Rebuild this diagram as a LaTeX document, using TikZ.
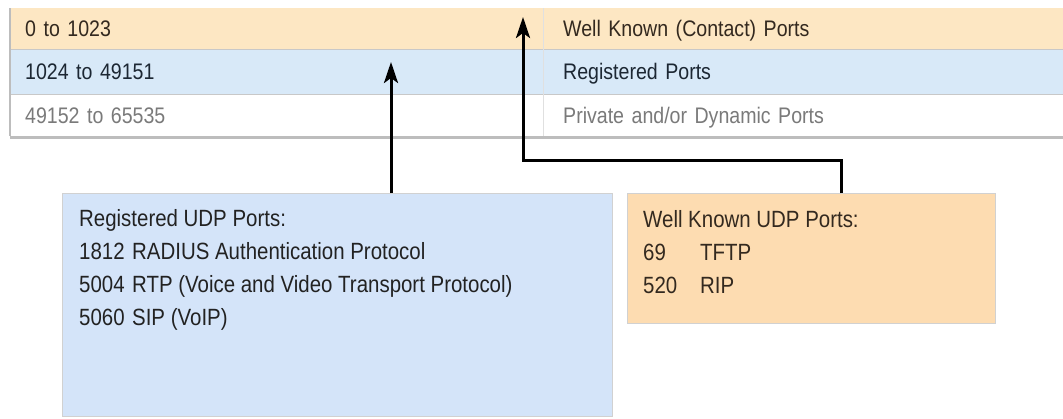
\documentclass[tikz,border=0pt]{standalone}
\usepackage{fontspec}
\setmainfont{Liberation Sans}[FakeStretch=0.87]
\usetikzlibrary{arrows.meta}
\definecolor{rowor}{HTML}{FDE7C3}
\definecolor{rowbl}{HTML}{D8E9F8}
\definecolor{boxbl}{HTML}{D4E4F9}
\definecolor{boxor}{HTML}{FDDCB1}
\definecolor{linegray}{HTML}{C8C8C8}
\definecolor{shadowgray}{HTML}{BDBDBD}
\definecolor{txtor}{HTML}{33291F}
\definecolor{txtbl}{HTML}{1C2733}
\definecolor{txtgray}{HTML}{7A7A7A}
\definecolor{txtbox}{HTML}{222222}
\begin{document}
\begin{tikzpicture}[x=1pt,y=-1pt,
  cell/.style={anchor=north west, inner xsep=15pt, inner ysep=0pt, align=left,
    font=\fontsize{22.5}{27}\selectfont, text height=18pt, text depth=2pt, draw=none},
  rcell/.style={cell, inner xsep=20pt, text width=480pt},
  lcell/.style={cell, text width=503pt},
  infobox/.style={anchor=north west, draw=black!18, line width=1pt, inner sep=0pt},
  boxtext/.style={anchor=north west, inner sep=0pt, align=left, font=\fontsize{23.5}{33}\selectfont},
  arr/.style={draw=black, line width=3pt, -{Stealth[length=21pt,width=14pt,inset=5pt]}},
  sep/.style={draw=linegray, line width=1pt}]
\useasboundingbox (0,0) rectangle (1063,418);
\fill[white] (0,0) rectangle (1063,418);
% table rows
\node[lcell, fill=rowor, minimum height=41pt, text=txtor] (r1a) at (10,8) {0 to 1023};
\node[rcell, fill=rowor, minimum height=41pt, text=txtor] (r1b) at (543,8) {Well Known (Contact) Ports};
\node[lcell, fill=rowbl, minimum height=45pt, text=txtbl] (r2a) at (10,49) {1024 to 49151};
\node[rcell, fill=rowbl, minimum height=45pt, text=txtbl] (r2b) at (543,49) {Registered Ports};
\node[lcell, fill=white, minimum height=42pt, text=txtgray] (r3a) at (10,94) {49152 to 65535};
\node[rcell, fill=white, minimum height=42pt, text=txtgray] (r3b) at (543,94) {Private and/or Dynamic Ports};
% table lines
\draw[sep] (r1a.south west) -- (r1b.south east);
\draw[sep] (r2a.south west) -- (r2b.south east);
\draw[draw=black!12, line width=1pt] (r1a.north east) -- (r3a.south east);
\draw[draw=shadowgray, line width=1.5pt] (r1a.north west) -- (r3a.south west);
\draw[draw=shadowgray, line width=3pt] ([yshift=-1.5pt]r3a.south west) -- ([yshift=-1.5pt]r3b.south east);
% boxes
\node[infobox, fill=boxbl, minimum width=550pt, minimum height=223pt] (blue) at (62,193) {};
\node[infobox, fill=boxor, minimum width=368pt, minimum height=130pt] (orange) at (627,193) {};
\node[boxtext, text=txtbox] (bluetext) at (79,203) {%
  \begin{tabular}{@{}p{53pt}@{}l@{}}
  \multicolumn{2}{@{}l@{}}{Registered UDP Ports:}\\
  1812 & RADIUS Authentication Protocol\\
  5004 & RTP (Voice and Video Transport Protocol)\\
  5060 & SIP (VoIP)
  \end{tabular}};
\node[boxtext, text=txtor] (orangetext) at (643,204) {%
  \begin{tabular}{@{}p{57pt}@{}l@{}}
  \multicolumn{2}{@{}l@{}}{Well Known UDP Ports:}\\
  69 & TFTP\\
  520 & RIP
  \end{tabular}};
% connectors
\coordinate (t1) at (391,62);
\coordinate (k2) at (841,160);
\coordinate (t2) at (523,17);
\draw[arr] (blue.north -| t1) -- (t1);
\draw[arr] (orange.north -| k2) -- (k2) -| (t2);
\end{tikzpicture}
\end{document}
